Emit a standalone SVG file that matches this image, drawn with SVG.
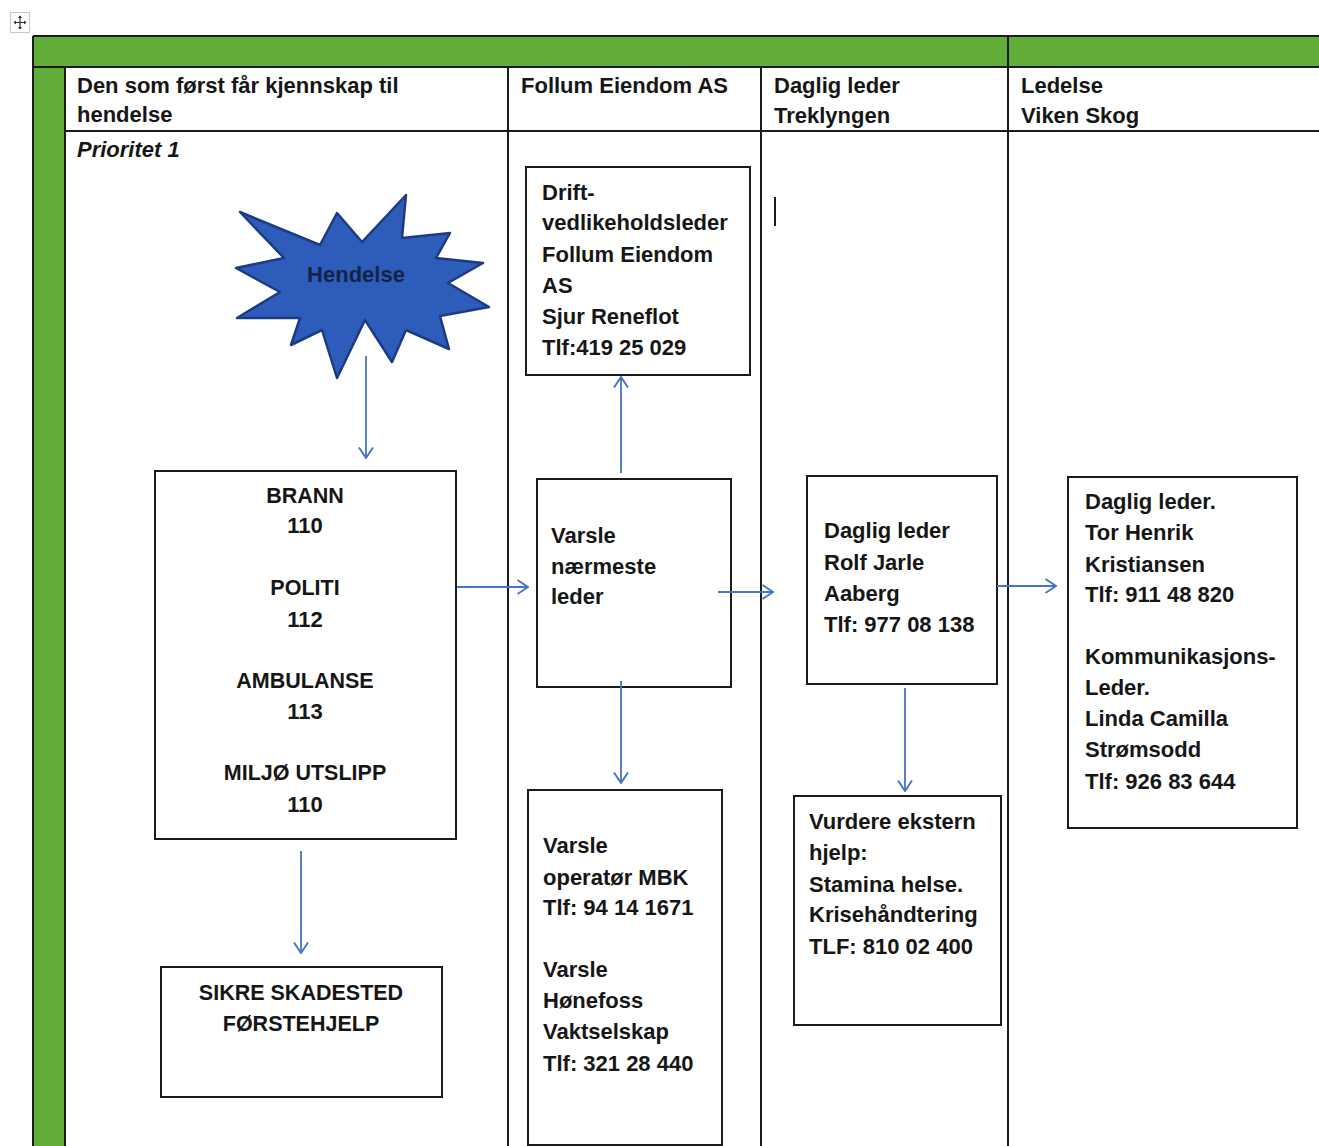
<svg xmlns="http://www.w3.org/2000/svg" width="1319" height="1146" viewBox="0 0 1319 1146">
<style>
.t{font-family:"Liberation Sans",Arial,sans-serif;font-weight:bold;font-size:22px;fill:#161616}
.u{font-size:21.5px}
.c{text-anchor:middle}
.box{fill:#fff;stroke:#1b1b1b;stroke-width:2}
.grid{stroke:#1b1b1b;stroke-width:2;fill:none}
.arr{stroke:#4674c8;stroke-width:1.8;fill:none;marker-end:url(#ah)}
</style>
<defs>
<marker id="ah" viewBox="0 0 12 16" refX="11" refY="8" markerWidth="12" markerHeight="16" markerUnits="userSpaceOnUse" orient="auto">
<path d="M0.5,1 L11,8 L0.5,15" fill="none" stroke="#4674c8" stroke-width="1.9"/>
</marker>
</defs>
<rect width="1319" height="1146" fill="#fff"/>

<g id="move-icon">
<rect x="10.5" y="12.5" width="19" height="20" fill="#fff" stroke="#c8c8c8" stroke-width="1"/>
<path d="M20,16 V29 M14,22.5 H26" stroke="#333" stroke-width="1.2"/>
<path d="M18,18 L20,15.5 L22,18 Z M18,27 L20,29.5 L22,27 Z M16,20.5 L13.5,22.5 L16,24.5 Z M24,20.5 L26.5,22.5 L24,24.5 Z" fill="#333"/>
</g>

<g id="table">
<rect x="33" y="36" width="1290" height="31" fill="#62ad3a"/>
<rect x="33" y="36" width="32" height="1115" fill="#62ad3a"/>
<path class="grid" d="M33,36 H1319 M33,36 V1146 M65,67 V1146 M33,67 H1319 M65,131 H1319 M508,67 V1146 M761,67 V1146 M1008,36 V1146"/>
<text class="t" x="77" y="93">Den som først får kjennskap til</text>
<text class="t" x="77" y="122">hendelse</text>
<text class="t" x="77" y="157" font-style="italic">Prioritet 1</text>
<text class="t" x="521" y="93">Follum Eiendom AS</text>
<text class="t" x="774" y="93">Daglig leder</text>
<text class="t" x="774" y="123">Treklyngen</text>
<text class="t" x="1021" y="93">Ledelse</text>
<text class="t" x="1021" y="123">Viken Skog</text>
<path d="M775,197 V226" stroke="#1b1b1b" stroke-width="2"/>
</g>

<g id="hendelse">
<path d="M240,212 L320,245 L337,213 L362,242 L406,195 L402,238 L450,233 L436,258 L483,263 L448,283 L489,307 L440,316 L449,349 L406,330 L392,362 L365,320 L337,378 L322,330 L291,345 L300,318 L237,318 L280,292 L236,268 L284,258 Z" fill="#2d5cbb" stroke="#1d3b82" stroke-width="2.5" stroke-linejoin="round"/>
<text class="t c" x="356" y="282" font-size="20" style="fill:#142248">Hendelse</text>
</g>

<g id="nodeNod">
<rect class="box" x="155" y="471" width="301" height="368"/>
<text class="t u c" x="305" y="503">BRANN</text>
<text class="t c" x="305" y="533">110</text>
<text class="t u c" x="305" y="595">POLITI</text>
<text class="t c" x="305" y="627">112</text>
<text class="t u c" x="305" y="688">AMBULANSE</text>
<text class="t c" x="305" y="719">113</text>
<text class="t u c" x="305" y="780">MILJØ UTSLIPP</text>
<text class="t c" x="305" y="812">110</text>
</g>

<g id="sikre">
<rect class="box" x="161" y="967" width="281" height="130"/>
<text class="t u c" x="301" y="1000">SIKRE SKADESTED</text>
<text class="t u c" x="301" y="1031">FØRSTEHJELP</text>
</g>

<g id="drift">
<rect class="box" x="526" y="167" width="224" height="208"/>
<text class="t" x="542" y="200">Drift-</text>
<text class="t" x="542" y="230">vedlikeholdsleder</text>
<text class="t" x="542" y="262">Follum Eiendom</text>
<text class="t" x="542" y="293">AS</text>
<text class="t" x="542" y="324">Sjur Reneflot</text>
<text class="t" x="542" y="355">Tlf:419 25 029</text>
</g>

<g id="varsle-leder">
<rect class="box" x="537" y="479" width="194" height="208"/>
<text class="t" x="551" y="543">Varsle</text>
<text class="t" x="551" y="574">nærmeste</text>
<text class="t" x="551" y="604">leder</text>
</g>

<g id="varsle-operator">
<rect class="box" x="528" y="790" width="194" height="355"/>
<text class="t" x="543" y="853">Varsle</text>
<text class="t" x="543" y="885">operatør MBK</text>
<text class="t" x="543" y="915">Tlf: 94 14 1671</text>
<text class="t" x="543" y="977">Varsle</text>
<text class="t" x="543" y="1008">Hønefoss</text>
<text class="t" x="543" y="1039">Vaktselskap</text>
<text class="t" x="543" y="1071">Tlf: 321 28 440</text>
</g>

<g id="daglig-leder">
<rect class="box" x="807" y="476" width="190" height="208"/>
<text class="t" x="824" y="538">Daglig leder</text>
<text class="t" x="824" y="570">Rolf Jarle</text>
<text class="t" x="824" y="601">Aaberg</text>
<text class="t" x="824" y="632">Tlf: 977 08 138</text>
</g>

<g id="vurdere">
<rect class="box" x="794" y="796" width="207" height="229"/>
<text class="t" x="809" y="829">Vurdere ekstern</text>
<text class="t" x="809" y="860">hjelp:</text>
<text class="t" x="809" y="892">Stamina helse.</text>
<text class="t" x="809" y="922">Krisehåndtering</text>
<text class="t" x="809" y="954">TLF: 810 02 400</text>
</g>

<g id="ledelse">
<rect class="box" x="1068" y="477" width="229" height="351"/>
<text class="t" x="1085" y="509">Daglig leder.</text>
<text class="t" x="1085" y="540">Tor Henrik</text>
<text class="t" x="1085" y="572">Kristiansen</text>
<text class="t" x="1085" y="602">Tlf: 911 48 820</text>
<text class="t" x="1085" y="664">Kommunikasjons-</text>
<text class="t" x="1085" y="695">Leder.</text>
<text class="t" x="1085" y="726">Linda Camilla</text>
<text class="t" x="1085" y="757">Strømsodd</text>
<text class="t" x="1085" y="789">Tlf: 926 83 644</text>
</g>

<g id="connectors">
<path class="arr" d="M366,356 V458"/>
<path class="arr" d="M301,851 V953"/>
<path class="arr" d="M457,587 H528"/>
<path class="arr" d="M621,473 V377"/>
<path class="arr" d="M621,681 V783"/>
<path class="arr" d="M718,592 H773"/>
<path class="arr" d="M997,586 H1056"/>
<path class="arr" d="M905,688 V791"/>
</g>
</svg>
